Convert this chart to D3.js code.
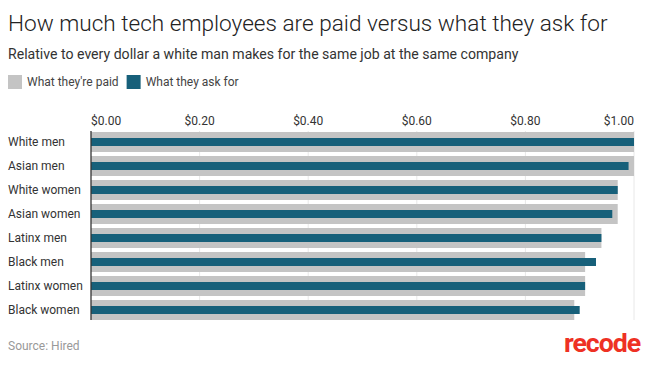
<!DOCTYPE html>
<html>
<head>
<meta charset="utf-8">
<script src="https://cdn.jsdelivr.net/npm/d3@7"></script>
<style>
  body { margin: 0; background: #fff; }
  svg text { font-family: Roboto, "Noto Sans", sans-serif; }
</style>
</head>
<body>
<div id="chart"></div>
<script>
// data
const groups = ["White men", "Asian men", "White women", "Asian women",
                "Latinx men", "Black men", "Latinx women", "Black women"];
const paid = [1.00, 1.00, 0.97, 0.97, 0.94, 0.91, 0.91, 0.89];
const askFor = [1.00, 0.99, 0.97, 0.96, 0.94, 0.93, 0.91, 0.90];
const xTicks = [0, 0.2, 0.4, 0.6, 0.8, 1.0];
const seriesNames = ["What they're paid", "What they ask for"];
const seriesColors = ["#c4c4c4", "#17607a"];

const width = 650, height = 369;
const margin = {top: 130, right: 16, bottom: 49, left: 91};

const svg = d3.select('#chart')
    .append('svg')
    .attr('width', width)
    .attr('height', height);

// header
svg.append('text')
    .attr('x', 8).attr('y', 31)
    .style('font-size', '22.6px')
    .style('font-weight', 300)
    .style('fill', '#222')
    .text('How much tech employees are paid versus what they ask for');

svg.append('text')
    .attr('x', 8).attr('y', 59)
    .style('font-size', '14.1px')
    .style('fill', '#333')
    .text('Relative to every dollar a white man makes for the same job at the same company');

// legend
const legend = svg.append('g').attr('transform', 'translate(8,75)');
let lx = 0;
seriesNames.forEach((name, i) => {
    const g = legend.append('g').attr('transform', `translate(${lx},0)`);
    g.append('rect').attr('width', 14).attr('height', 14).style('fill', seriesColors[i]);
    const t = g.append('text')
        .attr('x', 19).attr('y', 11)
        .style('font-size', '12px')
        .style('fill', '#444')
        .text(name);
    lx += 19 + t.node().getComputedTextLength() + 8;
});

const x = d3.scaleLinear()
    .domain([0, 1])
    .range([margin.left, width - margin.right]);

const y = d3.scaleBand()
    .domain(groups)
    .range([margin.top + 2, height - margin.bottom])
    .paddingInner(4 / 24)
    .paddingOuter(0);

// gridlines
svg.append('g')
    .selectAll('line')
    .data(xTicks.slice(1))
    .join('line')
    .attr('x1', d => x(d)).attr('x2', d => x(d))
    .attr('y1', margin.top + 1).attr('y2', height - margin.bottom)
    .style('stroke', '#e8e8e8')
    .style('stroke-width', 1);

// tick labels
svg.append('g')
    .selectAll('text')
    .data(xTicks)
    .join('text')
    .attr('x', d => x(d))
    .attr('y', 125)
    .attr('text-anchor', (d, i) => i === 0 ? 'start' : (i === xTicks.length - 1 ? 'end' : 'middle'))
    .style('font-size', '12px')
    .style('fill', '#333')
    .text(d => '$' + d3.format('.2f')(d));

// bars
const barH = y.bandwidth();
svg.append('g')
    .selectAll('rect')
    .data(groups)
    .join('rect')
    .attr('x', x(0))
    .attr('y', d => y(d))
    .attr('width', (d, i) => x(paid[i]) - x(0))
    .attr('height', barH)
    .style('fill', seriesColors[0]);

const innerH = 8;
svg.append('g')
    .selectAll('rect')
    .data(groups)
    .join('rect')
    .attr('x', x(0))
    .attr('y', d => y(d) + (barH - innerH) / 2)
    .attr('width', (d, i) => x(askFor[i]) - x(0))
    .attr('height', innerH)
    .style('fill', seriesColors[1]);

// category labels
svg.append('g')
    .selectAll('text')
    .data(groups)
    .join('text')
    .attr('x', 8)
    .attr('y', d => y(d) + barH / 2)
    .attr('dy', '0.35em')
    .style('font-size', '12px')
    .style('fill', '#333')
    .text(d => d);

// baseline
svg.append('line')
    .attr('x1', x(0)).attr('x2', x(0))
    .attr('y1', margin.top + 1).attr('y2', height - margin.bottom)
    .style('stroke', '#333')
    .style('stroke-width', 1.3);

// footer
svg.append('text')
    .attr('x', 8).attr('y', 350)
    .style('font-size', '12px')
    .style('fill', '#999')
    .text('Source: Hired');

svg.append('text')
    .attr('x', 640).attr('y', 352)
    .attr('text-anchor', 'end')
    .attr('textLength', 76)
    .attr('lengthAdjust', 'spacingAndGlyphs')
    .style('font-size', '25px')
    .style('font-weight', 700)
    .style('letter-spacing', '-1px')
    .style('fill', '#ee3124')
    .text('recode');
</script>
</body>
</html>
